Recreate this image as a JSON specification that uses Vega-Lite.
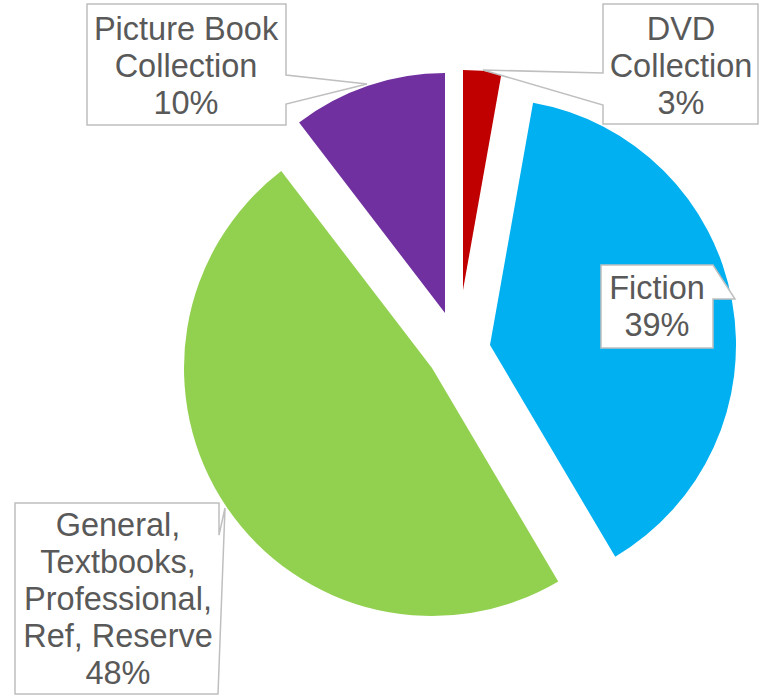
{
  "$schema": "https://vega.github.io/schema/vega-lite/v6.json",
  "autosize": {"type": "none"},
  "padding": {"left": 160, "top": 0, "right": 0, "bottom": 0},
  "width": 600,
  "height": 700,
  "background": "white",
  "config": {"view": {"stroke": null}},
  "data": {
    "values": [
      {"category": "DVD Collection", "label": "DVD\nCollection", "share": 2.8, "order": 1},
      {"category": "Fiction", "label": "Fiction", "share": 38.7, "order": 2},
      {"category": "General, Textbooks, Professional, Ref, Reserve", "label": "General,\nTextbooks,\nProfessional,\nRef, Reserve", "share": 48.1, "order": 3},
      {"category": "Picture Book Collection", "label": "Picture Book\nCollection", "share": 10.4, "order": 4}
    ]
  },
  "transform": [
    {"stack": "share", "groupby": [], "sort": [{"field": "order", "order": "ascending"}], "as": ["start", "end"]},
    {"calculate": "datum.label + '\\n' + format(datum.share, '.0f') + '%'", "as": "text"}
  ],
  "layer": [
    {
      "transform": [{"filter": "datum.order == 1"}],
      "mark": {"type": "arc", "outerRadius": 220, "xOffset": 3, "yOffset": -60},
      "encoding": {
        "theta": {"field": "start", "type": "quantitative", "scale": {"domain": [0, 100]}},
        "theta2": {"field": "end"},
        "color": {"field": "category", "type": "nominal", "legend": null,
          "scale": {"domain": ["DVD Collection", "Fiction", "General, Textbooks, Professional, Ref, Reserve", "Picture Book Collection"],
                    "range": ["#C00000", "#00B0F0", "#92D050", "#7030A0"]}}
      }
    },
    {
      "transform": [{"filter": "datum.order == 2"}],
      "mark": {"type": "arc", "outerRadius": 246, "xOffset": 30, "yOffset": -5},
      "encoding": {
        "theta": {"field": "start", "type": "quantitative", "scale": {"domain": [0, 100]}},
        "theta2": {"field": "end"},
        "color": {"field": "category", "type": "nominal", "legend": null}
      }
    },
    {
      "transform": [{"filter": "datum.order == 3"}],
      "mark": {"type": "arc", "outerRadius": 248, "xOffset": -28, "yOffset": 18},
      "encoding": {
        "theta": {"field": "start", "type": "quantitative", "scale": {"domain": [0, 100]}},
        "theta2": {"field": "end"},
        "color": {"field": "category", "type": "nominal", "legend": null}
      }
    },
    {
      "transform": [{"filter": "datum.order == 4"}],
      "mark": {"type": "arc", "outerRadius": 240, "xOffset": -15, "yOffset": -37},
      "encoding": {
        "theta": {"field": "start", "type": "quantitative", "scale": {"domain": [0, 100]}},
        "theta2": {"field": "end"},
        "color": {"field": "category", "type": "nominal", "legend": null}
      }
    },
    {
      "transform": [{"filter": "datum.order == 1"}],
      "mark": {"type": "point", "filled": true, "fill": "white", "opacity": 1, "stroke": "#BFBFBF", "strokeWidth": 1.5, "size": 4,
        "shape": "M143,-346H298V-226H143V-245L23,-280L143,-277Z"},
      "encoding": {}
    },
    {
      "transform": [{"filter": "datum.order == 2"}],
      "mark": {"type": "point", "filled": true, "fill": "white", "opacity": 1, "stroke": "#BFBFBF", "strokeWidth": 1.5, "size": 4,
        "shape": "M141,-85H253L275,-51L253,-51V-2H141Z"},
      "encoding": {}
    },
    {
      "transform": [{"filter": "datum.order == 3"}],
      "mark": {"type": "point", "filled": true, "fill": "white", "opacity": 1, "stroke": "#BFBFBF", "strokeWidth": 1.5, "size": 4,
        "shape": "M-445,153H-241V185L-235,158L-242,344H-445Z"},
      "encoding": {}
    },
    {
      "transform": [{"filter": "datum.order == 4"}],
      "mark": {"type": "point", "filled": true, "fill": "white", "opacity": 1, "stroke": "#BFBFBF", "strokeWidth": 1.5, "size": 4,
        "shape": "M-373,-346H-174V-275L-93,-266L-174,-246V-225H-373Z"},
      "encoding": {}
    },
    {
      "transform": [{"filter": "datum.order == 1"}],
      "mark": {"type": "text", "font": "Liberation Sans", "fontSize": 32.5, "lineHeight": 37, "color": "#595959", "align": "center", "baseline": "middle", "lineBreak": "\n", "dx": 221, "dy": -320},
      "encoding": {"text": {"field": "text"}}
    },
    {
      "transform": [{"filter": "datum.order == 2"}],
      "mark": {"type": "text", "font": "Liberation Sans", "fontSize": 32.5, "lineHeight": 37, "color": "#595959", "align": "center", "baseline": "middle", "lineBreak": "\n", "dx": 197, "dy": -61},
      "encoding": {"text": {"field": "text"}}
    },
    {
      "transform": [{"filter": "datum.order == 3"}],
      "mark": {"type": "text", "font": "Liberation Sans", "fontSize": 32.5, "lineHeight": 37, "color": "#595959", "align": "center", "baseline": "middle", "lineBreak": "\n", "dx": -342, "dy": 176},
      "encoding": {"text": {"field": "text"}}
    },
    {
      "transform": [{"filter": "datum.order == 4"}],
      "mark": {"type": "text", "font": "Liberation Sans", "fontSize": 32.5, "lineHeight": 37, "color": "#595959", "align": "center", "baseline": "middle", "lineBreak": "\n", "dx": -274, "dy": -320},
      "encoding": {"text": {"field": "text"}}
    }
  ]
}
